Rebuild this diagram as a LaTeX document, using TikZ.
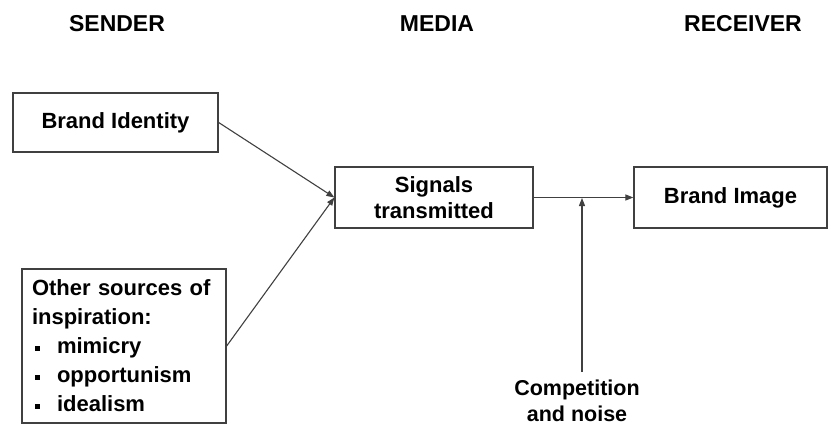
\documentclass[tikz,border=0pt]{standalone}
\usepackage{fontspec}
\setmainfont{Liberation Sans}
\usetikzlibrary{arrows.meta}
\definecolor{linec}{HTML}{404040}
\tikzset{
  box/.style={draw=linec, line width=1.3pt, inner sep=0pt, font=\fontsize{22}{29}\selectfont\bfseries},
  head/.style={font=\fontsize{23}{28}\selectfont\bfseries, inner sep=0pt, anchor=base},
  conn/.style={draw=linec, line width=1.1pt, -{Triangle[length=8pt,width=6pt]}},
}
\newcommand{\bul}{\makebox[25pt][l]{\hspace{3pt}\rule[3pt]{5pt}{5pt}}}
\begin{document}
\begin{tikzpicture}[x=1pt,y=-1pt]
\useasboundingbox (0,0) rectangle (829,425);
\node[head] (sender) at (117,32) {SENDER};
\node[head] (media) at (437,32) {MEDIA};
\node[head] (receiver) at (743,32) {RECEIVER};

\node[box, minimum width=205pt, minimum height=59pt] (bi) at (115.5,122.5) {Brand Identity};
\node[box, minimum width=204pt, minimum height=154pt, text width=184pt, align=left] (other) at (124,346)
  {Other sources of\\inspiration:\\\bul mimicry\\\bul opportunism\\\bul idealism};
\node[box, minimum width=198pt, minimum height=61pt, align=center, font=\fontsize{22}{26}\selectfont\bfseries] (sig) at (434,197.5) {Signals\\transmitted};
\node[box, minimum width=193pt, minimum height=61pt] (bimg) at (730.5,197.5) {Brand Image};
\node[align=center, inner sep=0pt, font=\fontsize{21.5}{26}\selectfont\bfseries, anchor=north] (comp) at (577,380) {Competition\\and noise};

\coordinate (j) at (582,198);
\coordinate (jb) at (582,372);
\draw[conn] (bi.east) -- (sig.west);
\draw[conn] (other.east) -- (sig.west);
\draw[conn] (sig.east) -- (bimg.west);
\draw[conn] (jb) -- (j);
\end{tikzpicture}
\end{document}
